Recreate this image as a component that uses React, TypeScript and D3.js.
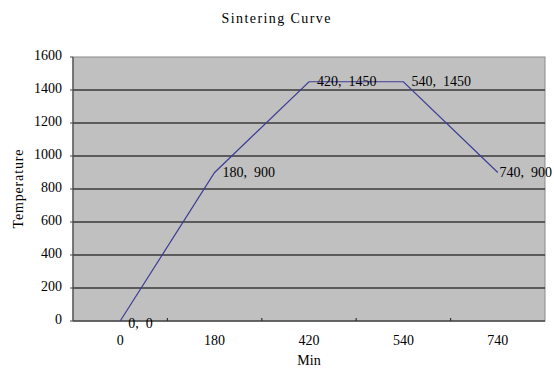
import React from "react";
import * as d3 from "d3";

const categories: string[] = ["0", "180", "420", "540", "740"];
const temperatures: number[] = [0, 900, 1450, 1450, 900];
const yTicks: number[] = [0, 200, 400, 600, 800, 1000, 1200, 1400, 1600];
const title = "Sintering Curve";
const xTitle = "Min";
const yTitle = "Temperature";

const W = 554;
const H = 370;
const plot = { left: 73, right: 545, top: 57, bottom: 321 };
const FONT = "'Liberation Serif', 'DejaVu Serif', serif";

export default function App() {
  const x = d3
    .scalePoint<string>()
    .domain(categories)
    .range([plot.left, plot.right])
    .padding(0.5);
  const y = d3.scaleLinear().domain([0, 1600]).range([plot.bottom, plot.top]);
  const step = x.step();
  const line = d3
    .line<number>()
    .x((_, i) => x(categories[i]) as number)
    .y((d) => y(d));
  const dividers = d3.range(1, categories.length).map((i) => plot.left + step * i);

  return (
    <svg
      width={W}
      height={H}
      style={{ position: "absolute", left: 0, top: 0, background: "#fff" }}
      fontFamily={FONT}
      fontSize={14}
    >
      <rect x={0} y={0} width={W} height={H} fill="#fff" />
      <text x={276} y={20} textAnchor="middle" dominantBaseline="middle" fill="#000" textLength={109}>
        {title}
      </text>
      <rect
        x={plot.left}
        y={plot.top}
        width={plot.right - plot.left}
        height={plot.bottom - plot.top}
        fill="#C0C0C0"
        stroke="#8a8a8a"
        strokeWidth={1}
      />
      {yTicks.slice(1, -1).map((t) => (
        <line
          key={"g" + t}
          x1={plot.left}
          x2={plot.right}
          y1={y(t)}
          y2={y(t)}
          stroke="#3a3a3a"
          strokeWidth={1.3}
        />
      ))}
      <line x1={plot.left} x2={plot.right} y1={plot.bottom} y2={plot.bottom} stroke="#4a4a4a" strokeWidth={1.5} />
      <line x1={plot.left} x2={plot.left} y1={plot.top} y2={plot.bottom} stroke="#4a4a4a" strokeWidth={1.2} />
      {yTicks.map((t) => (
        <line key={"yt" + t} x1={plot.left - 3} x2={plot.left} y1={y(t)} y2={y(t)} stroke="#4a4a4a" />
      ))}
      {dividers.map((d, i) => (
        <line key={"xt" + i} x1={d} x2={d} y1={plot.bottom} y2={plot.bottom - 3} stroke="#333" strokeWidth={1.2} />
      ))}
      {yTicks.map((t) => (
        <text key={"yl" + t} x={62} y={y(t)} textAnchor="end" dominantBaseline="middle" fill="#000">
          {t}
        </text>
      ))}
      {categories.map((c) => (
        <text key={"xl" + c} x={x(c)} y={342} textAnchor="middle" dominantBaseline="middle" fill="#000">
          {c}
        </text>
      ))}
      <text x={309} y={362} textAnchor="middle" dominantBaseline="middle" fill="#000">
        {xTitle}
      </text>
      <text
        transform={`translate(20,189) rotate(-90)`}
        textAnchor="middle"
        dominantBaseline="middle"
        fill="#000"
        textLength={79}
      >
        {yTitle}
      </text>
      <path d={line(temperatures) || ""} fill="none" stroke="#3d3d94" strokeWidth={1.2} />
      {temperatures.map((v, i) => {
        const px = x(categories[i]) as number;
        const last = i === categories.length - 1;
        return (
          <text
            key={"dl" + i}
            x={last ? 552 : px + 8}
            y={y(v) + (v === 0 ? 4 : 1)}
            textAnchor={last ? "end" : "start"}
            dominantBaseline="middle"
            fill="#000"
            style={{ whiteSpace: "pre" }}
          >
            {`${categories[i]},  ${v}`}
          </text>
        );
      })}
    </svg>
  );
}
